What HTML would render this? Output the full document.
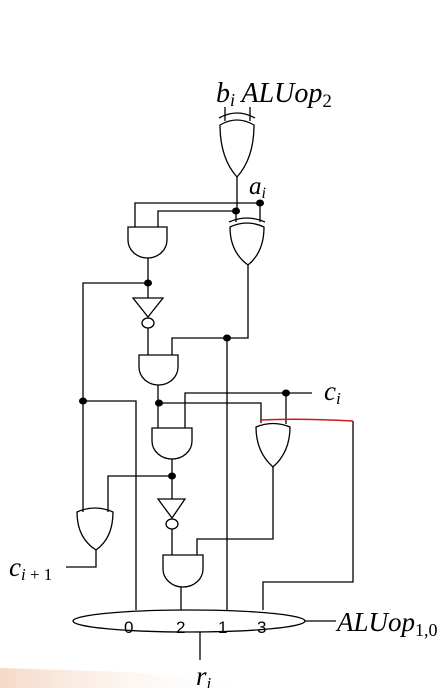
<!DOCTYPE html>
<html><head><meta charset="utf-8"><style>
html,body{margin:0;padding:0;background:#fff}
svg{display:block}
text{font-family:"Liberation Serif",serif;font-style:italic;fill:#000}
.n{font-family:"Liberation Sans",sans-serif;font-style:normal;font-size:17px}
</style></head><body>
<svg width="448" height="688" viewBox="0 0 448 688">
<defs><linearGradient id="pk" x1="0" y1="0" x2="1" y2="0"><stop offset="0" stop-color="#f6d9c8"/><stop offset="1" stop-color="#fff" stop-opacity="0"/></linearGradient></defs>
<polygon points="0,668 0,688 260,688 130,672" fill="url(#pk)"/>
<g fill="none" stroke="#000" stroke-width="1.3">
<g>
<path d="M225,107V121 M250,107V121"/>
<path d="M219,118 Q237,108 255,118"/>
<path d="M220,125 Q237,115 254,125 Q254,158 237,177 Q220,158 220,125Z"/>
</g>
<path d="M237,177V211"/>
<path d="M135,227V203H260V222 M158,227V211H236V222"/>
<path d="M128,227H167V240A19.5,18 0 0 1 128,240Z"/>
<g>
<path d="M229,222 Q247,214 265,222"/>
<path d="M230,227 Q247,219 264,227 Q264,252 248,265 Q230,252 230,227Z"/>
</g>
<path d="M148,258V298 M83,512V283H148"/>
<g><path d="M133,298H163L148,317Z"/><ellipse cx="148" cy="323" rx="6" ry="5"/></g>
<path d="M148,328V355 M248,265V338H172V355 M227,338V610"/>
<path d="M139,355H178V367A19.5,18 0 0 1 139,367Z"/>
<path d="M158,385V428 M83,401H136V610 M158,403H261V423 M185,428V393H312 M286,393V424"/>
<path d="M152,428H192V441A20,18 0 0 1 152,441Z"/>
<g>
<path d="M256,427 Q273,420 290,427 Q290,452 273,467 Q256,452 256,427Z"/>
</g>
<path d="M172,459V499 M108,512V476H172"/>
<g><path d="M158,499H185L172,518Z"/><ellipse cx="172" cy="524" rx="6" ry="5"/></g>
<path d="M172,529V555 M273,467V539H197V555"/>
<path d="M163,555H203V569A20,18 0 0 1 163,569Z"/>
<path d="M181,587V610"/>
<path d="M77,512 Q95,504 113,512 Q113,538 96,550 Q77,538 77,512Z"/>
<path d="M96,550V567H66"/>
<path d="M353,421V582H263V610"/>
<ellipse cx="189" cy="621" rx="116" ry="11"/>
<path d="M305,621H336 M200,632V660"/>
</g>
<path d="M260,420 Q300,418 353,421" stroke="#d01818" stroke-width="1.5" fill="none"/>
<g fill="#000">
<ellipse cx="260" cy="203" rx="4" ry="3.5"/><ellipse cx="236" cy="211" rx="4" ry="3.5"/>
<ellipse cx="148" cy="283" rx="4" ry="3.5"/><ellipse cx="227" cy="338" rx="4" ry="3.5"/>
<ellipse cx="83" cy="401" rx="4" ry="3.5"/><ellipse cx="159" cy="403" rx="4" ry="3.5"/>
<ellipse cx="286" cy="393" rx="4" ry="3.5"/><ellipse cx="172" cy="476" rx="4" ry="3.5"/>
</g>
<text x="216" y="102" font-size="28">b<tspan font-size="18" dy="4">i</tspan><tspan dy="-4"> ALUop</tspan><tspan font-size="19" dy="5" font-style="normal">2</tspan></text>
<text x="249" y="194" font-size="25">a<tspan font-size="16" dy="4">i</tspan></text>
<text x="324" y="400" font-size="27">c<tspan font-size="17" dy="4">i</tspan></text>
<text x="9" y="576" font-size="27">c<tspan font-size="17" dy="4">i</tspan><tspan font-size="17" font-style="normal"> + 1</tspan></text>
<text x="337" y="631" font-size="27">ALUop<tspan font-size="18" dy="5" font-style="normal">1,0</tspan></text>
<text x="196" y="685" font-size="27">r<tspan font-size="17" dy="4">i</tspan></text>
<text class="n" x="124" y="633">0</text>
<text class="n" x="176" y="633">2</text>
<text class="n" x="218" y="633">1</text>
<text class="n" x="257" y="633">3</text>
</svg>
</body></html>
